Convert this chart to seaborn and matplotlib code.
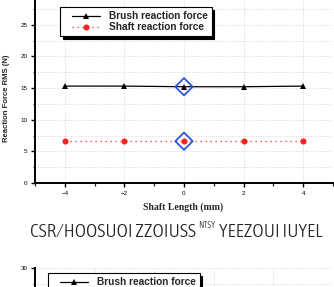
import numpy as np
import pandas as pd
import matplotlib
matplotlib.use('Agg')
import matplotlib.pyplot as plt
import seaborn as sns
from matplotlib.lines import Line2D
from matplotlib.legend_handler import HandlerLine2D
from matplotlib.ticker import MultipleLocator, FuncFormatter, NullFormatter
from matplotlib import font_manager

# values
shaft_length = [-4, -2, 0, 2, 4]
brush_force = [15.3, 15.3, 15.2, 15.2, 15.3]
shaft_force = [6.6, 6.6, 6.6, 6.6, 6.6]
highlight_x = [0, 0]
highlight_y = [15.2, 6.6]
series_names = ['Brush reaction force', 'Shaft reaction force']
x_label = 'Shaft Length (mm)'
y_label = 'Reaction Force RMS (N)'
caption_parts = ['CSR \u2044 HOOSUOI ZZOIUSS', 'NTSY', 'YEEZOUI IUYEL']

sns.set_style('white')
plt.rcParams['font.family'] = ['Liberation Sans', 'DejaVu Sans']

W, H = 334, 287
fig = plt.figure(figsize=(W / 100, H / 100), dpi=100)

def px_axes(left, top, width, height):
    return fig.add_axes([left / W, 1 - (top + height) / H, width / W, height / H])

def style_axes(ax):
    for s in ['top', 'right']:
        ax.spines[s].set_visible(False)
    for s in ['left', 'bottom']:
        ax.spines[s].set_linewidth(1.4)
        ax.spines[s].set_color('black')
    ax.yaxis.set_major_locator(MultipleLocator(5))
    ax.yaxis.set_minor_locator(MultipleLocator(2.5))
    ax.xaxis.set_major_locator(MultipleLocator(2))
    ax.xaxis.set_minor_locator(MultipleLocator(1))
    ax.tick_params(which='major', direction='out', length=3, width=1, labelsize=4.5,
                   pad=2.5, left=True, bottom=True, colors='black')
    ax.tick_params(which='minor', direction='out', length=1.8, width=0.9, left=True, bottom=True)
    ax.yaxis.grid(True, which='both', color='#cfcfcf', ls=':', lw=0.6)
    ax.xaxis.grid(True, which='major', color='#cfcfcf', ls=':', lw=0.6)
    ax.set_axisbelow(True)

LEG_SIZE = 7.3

def add_legend(ax, handles, labels, left, top):
    leg = ax.legend(handles, labels, loc='upper left',
                    bbox_to_anchor=(left / W, 1 - top / H), bbox_transform=fig.transFigure,
                    borderaxespad=0, frameon=True, fancybox=False,
                    shadow={'color': 'black', 'alpha': 1, 'ox': 2, 'oy': -2},
                    edgecolor='black', framealpha=1,
                    prop=dict(family='Liberation Sans', weight='bold', size=LEG_SIZE),
                    handler_map={Line2D: HandlerLine2D(xpad=0.75)},
                    handlelength=3.5, handletextpad=0.9, borderpad=0.4, labelspacing=0.1)
    leg.get_frame().set_linewidth(0.8)
    return leg

# main chart
df = pd.DataFrame({'x': shaft_length, 'brush': brush_force, 'shaft': shaft_force})
ax = px_axes(35, -7, 298, 190)
style_axes(ax)
sns.lineplot(data=df, x='x', y='brush', color='black', lw=0.9, marker='^', markersize=4.8,
             markeredgewidth=0, label=series_names[0], ax=ax)
sns.lineplot(data=df, x='x', y='shaft', color='#ff2020', lw=0.9, ls=(0, (1, 3)), marker='o',
             markersize=4.4, markeredgewidth=0, label=series_names[1], ax=ax)
sns.scatterplot(x=highlight_x, y=highlight_y, marker='D', s=78, facecolor='none',
                edgecolor='#2f55d4', linewidth=1.3, zorder=5, ax=ax)
ax.set_xlim(-5, 5)
ax.set_ylim(0, 30)
ax.yaxis.set_major_formatter(FuncFormatter(lambda v, p: '' if v >= 30 else f'{v:g}'))
ax.set_xlabel(x_label, family='Liberation Serif', weight='bold', size=7)
ax.set_ylabel(y_label, family='Liberation Sans', weight='bold', size=5.6)
ax.xaxis.set_label_coords(0.497, -0.126)
ax.xaxis.label.set_va('center')
ax.yaxis.set_label_coords(-0.094, 0.445)
ax.yaxis.label.set_va('center')
h, l = ax.get_legend_handles_labels()
add_legend(ax, h[:2], l[:2], 60, 7)

# next chart, only its top edge shows
ax2 = px_axes(35, 268, 298, 190)
style_axes(ax2)
ax2.set_xlim(0, 10)
ax2.set_ylim(0, 30)
ax2.set_xlabel('')
ax2.set_ylabel('')
ax2.xaxis.set_major_formatter(NullFormatter())
ax2.yaxis.set_major_formatter(FuncFormatter(lambda v, p: f'{v:g}' if v >= 30 else ''))
proxies = [Line2D([], [], color='black', lw=0.9, marker='^', markersize=4.8, markeredgewidth=0)]
add_legend(ax2, proxies, series_names[:1], 48, 273)

# caption in a narrow face
def caption_font():
    picks = []
    for f in font_manager.fontManager.ttflist:
        narrow = (f.stretch in ('ultra-condensed', 'extra-condensed', 'condensed')
                  or 'Condensed' in f.name or 'Narrow' in f.name)
        if narrow and f.style == 'normal':
            w = f.weight if isinstance(f.weight, int) else font_manager.weight_dict.get(f.weight, 400)
            picks.append((abs(w - 300), f.fname))
    if picks:
        return sorted(picks)[0][1]
    return None

cap_file = caption_font()

def cap_props(size):
    if cap_file:
        return font_manager.FontProperties(fname=cap_file, size=size)
    return font_manager.FontProperties(family='DejaVu Sans', size=size)

fig.canvas.draw()
renderer = fig.canvas.get_renderer()
big, small = 16, 6.5
texts = []
for text, size in zip(caption_parts, [big, small, big]):
    t = fig.text(0, 0, text, fontproperties=cap_props(size), va='baseline', ha='left')
    texts.append(t)
widths = [t.get_window_extent(renderer).width for t in texts]
gap1, gap2 = 2, 4
scale = (293 - widths[1] - gap1 - gap2) / (widths[0] + widths[2])
texts[0].set_fontsize(big * scale)
texts[2].set_fontsize(big * scale)
x = 30
texts[0].set_position((x / W, 1 - 237 / H))
x += widths[0] * scale + gap1
texts[1].set_position((x / W, 1 - 228 / H))
x += widths[1] + gap2
texts[2].set_position((x / W, 1 - 237 / H))

fig.savefig('out.png', dpi=100)
